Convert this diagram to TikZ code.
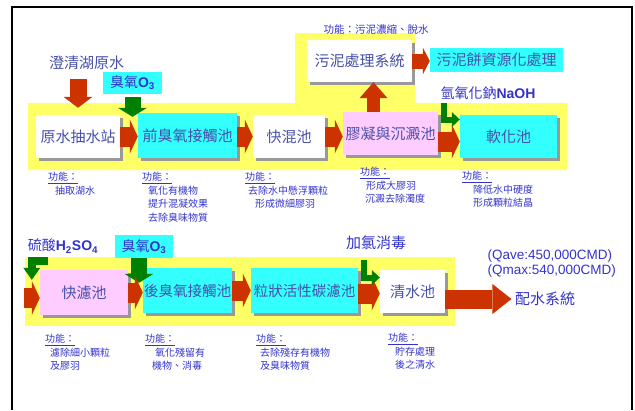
\documentclass[tikz,border=0pt]{standalone}
\usepackage{fontspec}
\setmainfont{Noto Sans CJK TC}
\newfontfamily\arial{Liberation Sans}
\usepackage{xcolor}
\usetikzlibrary{arrows.meta,shadows}
\definecolor{flowYellow}{RGB}{255,255,102}
\definecolor{flowCyan}{RGB}{51,255,255}
\definecolor{flowPink}{RGB}{255,204,255}
\definecolor{flowRed}{RGB}{204,51,0}
\definecolor{doseGreen}{RGB}{0,128,0}
\definecolor{labelBlue}{RGB}{51,51,204}
\definecolor{boxText}{RGB}{70,80,170}

\begin{document}
\begin{tikzpicture}[x=1pt, y=-1pt]
            % Styles
            \tikzstyle{tank} = [rectangle, minimum height=43pt, inner sep=0pt, text=boxText, font=\fontsize{15}{18}\selectfont, drop shadow={shadow xshift=3pt, shadow yshift=-3pt, fill=black!40, opacity=1}]
            \tikzstyle{chem} = [rectangle, fill=flowCyan, inner sep=0pt, text=labelBlue, font=\fontsize{14}{16}\selectfont]
            \tikzstyle{note} = [text=labelBlue, font=\fontsize{14}{16}\selectfont]
            \tikzstyle{func} = [anchor=north west, align=left, inner sep=0pt, text=labelBlue, font=\fontsize{10}{13.5}\selectfont]
            \tikzstyle{flow} = [-{Triangle[length=8pt, width=34pt, line width=0pt]}, line width=20pt, flowRed]
            \tikzstyle{flowdown} = [-{Triangle[length=11pt, width=29pt, line width=0pt]}, line width=17pt, flowRed]
            \tikzstyle{flowup} = [-{Triangle[length=16pt, width=28pt, line width=0pt]}, line width=13pt, flowRed]
            \tikzstyle{flowout} = [-{Triangle[length=19pt, width=30pt, line width=0pt]}, line width=19pt, flowRed]
            \tikzstyle{dose} = [-{Triangle[length=9pt, width=29pt, line width=0pt]}, line width=16pt, doseGreen]
            \tikzstyle{dosebend} = [-{Triangle[length=8pt, width=15pt, line width=0pt]}, line width=6pt, doseGreen]

            \useasboundingbox (0,0) rectangle (635,410);
            \draw[line width=1.5pt] (12,410) -- (12,7) -- (632,7) -- (632,410);

            % Background bands
            \fill[flowYellow] (28,103) -- (295,103) -- (295,33) -- (415,33) -- (415,103) -- (567,103) -- (567,170) -- (28,170) -- cycle;
            \fill[flowYellow] (25,257) rectangle (455,326);

            % Nodes
            \node[tank, fill=white, minimum width=84pt] (raw) at (78,136.5) {原水抽水站};
            \node[tank, fill=flowCyan, minimum width=99pt, minimum height=45pt] (preozone) at (187.5,135.5) {前臭氧接觸池};
            \node[tank, fill=white, minimum width=72pt] (rapidmix) at (289,136.5) {快混池};
            \node[tank, fill=flowPink, minimum width=95pt] (floc) at (390.5,133.5) {膠凝與沉澱池};
            \node[tank, fill=flowCyan, minimum width=97pt] (soften) at (508.5,136.5) {軟化池};
            \node[tank, fill=white, minimum width=105pt, minimum height=42pt] (sludge) at (359.5,61) {污泥處理系統};
            \node[chem, text=boxText, minimum width=133pt, minimum height=24pt, font=\fontsize{15}{18}\selectfont] (cake) at (496.5,60) {污泥餅資源化處理};

            \node[tank, fill=flowPink, minimum width=88pt, minimum height=45pt] (rapidfilter) at (84,292.5) {快濾池};
            \node[tank, fill=flowCyan, minimum width=89pt, minimum height=45pt, font=\fontsize{14.5}{18}\selectfont] (postozone) at (187.5,290.5) {後臭氧接觸池};
            \node[tank, fill=flowCyan, minimum width=107pt, minimum height=45pt, font=\fontsize{14.5}{18}\selectfont] (gac) at (304.5,290.5) {粒狀活性碳濾池};
            \node[tank, fill=white, minimum width=65pt] (clearwell) at (412.5,291.5) {清水池};

            % Chemicals and notes
            \node[chem, minimum width=59pt, minimum height=22pt] (ozoneA) at (132.5,83) {臭氧{\arial\bfseries O\textsubscript{3}}};
            \node[chem, minimum width=58pt, minimum height=23pt] (ozoneB) at (144,246.5) {臭氧{\arial\bfseries O\textsubscript{3}}};
            \node[note, text=boxText, font=\fontsize{15}{18}\selectfont] (lake) at (86.5,63) {澄清湖原水};
            \node[note, anchor=west] (naoh) at (437,93) {氫氧化鈉{\arial\bfseries NaOH}};
            \node[note] (acid) at (63,246) {硫酸{\arial\bfseries H\textsubscript{2}SO\textsubscript{4}}};
            \node[note, font=\fontsize{15}{18}\selectfont] (chlorine) at (376,243) {加氯消毒};
            \node[note, font=\fontsize{15}{18}\selectfont] (supply) at (545,299) {配水系統};
            \node[note, anchor=west, align=left, font=\arial\fontsize{13.5}{15}\selectfont] (capacity) at (484,263.5) {(Qave:450,000CMD)\\(Qmax:540,000CMD)};

            % Labels
            \node[text=labelBlue, font=\fontsize{10.5}{12}\selectfont] (sludgefn) at (376,30) {功能：污泥濃縮、脫水};
            \node[func] (rawfn) at (48,172) {\underline{功能：}\\\hspace*{7pt}抽取湖水};
            \node[func] (preozonefn) at (142,172) {\underline{功能：}\\\hspace*{6pt}氧化有機物\\\hspace*{6pt}提升混凝效果\\\hspace*{6pt}去除臭味物質};
            \node[func] (rapidmixfn) at (245,172) {\underline{功能：}\\\hspace*{3pt}去除水中懸浮顆粒\\\hspace*{10pt}形成微細膠羽};
            \node[func] (flocfn) at (360,167) {\underline{功能：}\\\hspace*{6pt}形成大膠羽\\\hspace*{5pt}沉澱去除濁度};
            \node[func] (softenfn) at (462,171) {\underline{功能：}\\\hspace*{11pt}降低水中硬度\\\hspace*{11pt}形成顆粒結晶};
            \node[func] (rapidfilterfn) at (45,334) {\underline{功能：}\\\hspace*{5pt}濾除細小顆粒\\\hspace*{5pt}及膠羽};
            \node[func] (postozonefn) at (145,334) {\underline{功能：}\\\hspace*{10pt}氧化殘留有\\\hspace*{7pt}機物、消毒};
            \node[func] (gacfn) at (256,334) {\underline{功能：}\\\hspace*{4pt}去除殘存有機物\\\hspace*{4pt}及臭味物質};
            \node[func] (clearwellfn) at (388,333) {\underline{功能：}\\\hspace*{7pt}貯存處理\\\hspace*{7pt}後之清水};

            % Arrows
            \draw[flowdown] ([yshift=-6pt]lake.south -| raw.north) -- ([yshift=7pt]raw.north);
            \draw[dose] ([yshift=-3pt]ozoneA.south) -- ([yshift=-4pt]ozoneA.south |- preozone.north);
            \draw[flow] (raw.east) -- (raw.east -| preozone.west);
            \draw[flow] (preozone.east |- rapidmix.west) -- (rapidmix.west);
            \draw[flow] (rapidmix.east) -- (rapidmix.east -| floc.west);
            \draw[flow] ([yshift=-8pt]floc.east) -- ([yshift=-8pt]floc.east -| soften.west);
            \draw[flowup] ([xshift=-17pt]floc.north) -- ([xshift=-17pt]floc.north |- sludge.south);
            \draw[flow, line width=15pt, -{Triangle[length=7pt, width=27pt, line width=0pt]}] (sludge.east) -- (sludge.east -| cake.west);
            \draw[dosebend] ([xshift=7pt]naoh.south west) |- ([yshift=17pt]soften.west);

            \coordinate (inlet) at (24,298);
            \draw[flow] (inlet) -- (inlet -| rapidfilter.west);
            \draw[dosebend, line width=8pt, -{Triangle[length=12pt, width=17pt, line width=0pt]}] ([xshift=-15pt,yshift=-4pt]acid.south) -| ([xshift=-8pt,yshift=-10pt]rapidfilter.north west);
            \draw[dose] ([xshift=-5pt]ozoneB.south) -- ([xshift=-5pt,yshift=-15pt]ozoneB.south |- postozone.north);
            \draw[flow] (rapidfilter.east) -- (rapidfilter.east -| postozone.west);
            \draw[flow] (postozone.east) -- (postozone.east -| gac.west);
            \draw[flow] ([yshift=-3pt]gac.east) -- ([yshift=-3pt]gac.east -| clearwell.west);
            \draw[dosebend] ([xshift=-12pt,yshift=-6pt]chlorine.south) |- ([yshift=14pt]clearwell.west);
            \draw[flowout] (clearwell.east |- supply.west) -- (supply.west);
        \end{tikzpicture}
\end{document}
